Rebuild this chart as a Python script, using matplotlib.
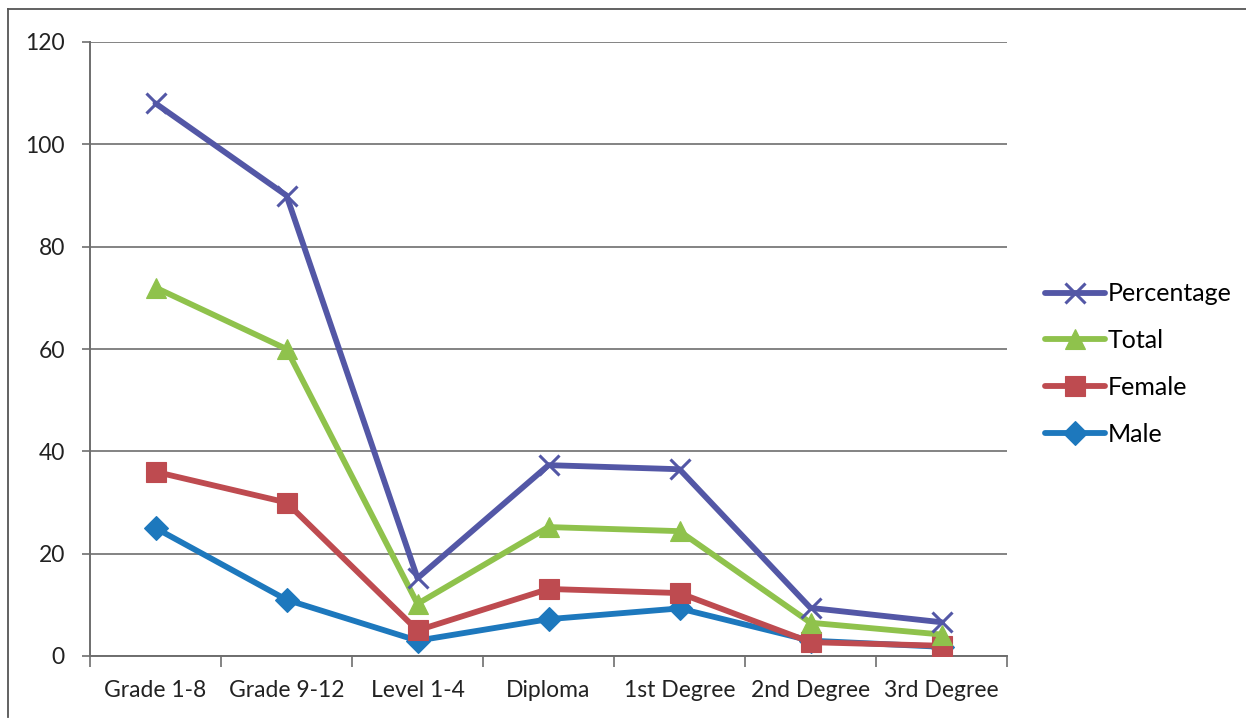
import matplotlib
matplotlib.use("Agg")
import matplotlib.pyplot as plt
from matplotlib.lines import Line2D
import numpy as np

plt.rcParams['font.family'] = ['Lato', 'DejaVu Sans']

categories = ["Grade 1-8", "Grade 9-12", "Level 1-4", "Diploma",
              "1st Degree", "2nd Degree", "3rd Degree"]
male = [25, 11, 3, 7.2, 9.3, 3, 1.8]
female = [36, 30, 5, 13.1, 12.3, 2.7, 2]
total = [72, 60, 10.2, 25.2, 24.4, 6.5, 4.2]
percentage = [108, 90, 15.2, 37.3, 36.5, 9.4, 6.6]
y_ticks = [0, 20, 40, 60, 80, 100, 120]

series = [
    ("Male", male, "#1d78bd", "D", 12),
    ("Female", female, "#be4b50", "s", 14),
    ("Total", total, "#8fc24c", "^", 14),
    ("Percentage", percentage, "#5357a6", "x", 14),
]

fig = plt.figure(figsize=(12.46, 7.19), dpi=100)
ax = fig.add_axes([90 / 1246, 1 - 656 / 719, (1007 - 90) / 1246, (656 - 42) / 719])

x = np.arange(len(categories))
handles = {}
for z, (name, vals, col, mk, ms) in enumerate(series):
    kw = dict(color=col, lw=4.2, marker=mk, markersize=ms, zorder=3 + z,
              solid_capstyle='round', solid_joinstyle='round')
    if mk == "x":
        kw.update(markeredgewidth=2.2, markeredgecolor=col)
    else:
        kw.update(markeredgewidth=0.8, markeredgecolor=col, markerfacecolor=col)
    (ln,) = ax.plot(x, vals, **kw)
    handles[name] = ln

ax.set_xlim(-0.5, len(categories) - 0.5)
ax.set_ylim(0, 120)
ax.set_yticks(y_ticks)
ax.set_yticklabels([str(v) for v in y_ticks], fontsize=16.5, color="#222222")
ax.yaxis.grid(True, color="#6e6e6e", lw=1.2)
ax.set_axisbelow(True)

ax.set_xticks(np.arange(-0.5, len(categories), 1.0))
ax.set_xticklabels([])
ax.set_xticks(x, minor=True)
ax.set_xticklabels(categories, minor=True, fontsize=16.5, color="#222222")
ax.tick_params(axis='x', which='minor', length=0, pad=17)
ax.tick_params(axis='x', which='major', length=8, width=1.2, color="#6e6e6e", direction='out')
ax.tick_params(axis='y', length=6, width=1.2, color="#6e6e6e", direction='out', pad=12)

for s in ("top", "right"):
    ax.spines[s].set_visible(False)
for s in ("left", "bottom"):
    ax.spines[s].set_color("#6e6e6e")
    ax.spines[s].set_linewidth(1.4)

order = ["Percentage", "Total", "Female", "Male"]
leg = fig.legend([handles[n] for n in order], order, loc='center left',
                 bbox_to_anchor=(1045 / 1246, 1 - 364 / 719), frameon=False,
                 fontsize=18, handlelength=2.4, handletextpad=0.1,
                 labelspacing=0.95, borderaxespad=0, borderpad=0)

# outer chart border
fig.add_artist(Line2D([8 / 1246, 8 / 1246], [1 - 717 / 719, 1 - 9 / 719],
                      transform=fig.transFigure, color="#555555", lw=1.3))
fig.add_artist(Line2D([8 / 1246, 1.0], [1 - 9 / 719, 1 - 9 / 719],
                      transform=fig.transFigure, color="#555555", lw=1.3))

fig.savefig("out.png", dpi=100)
